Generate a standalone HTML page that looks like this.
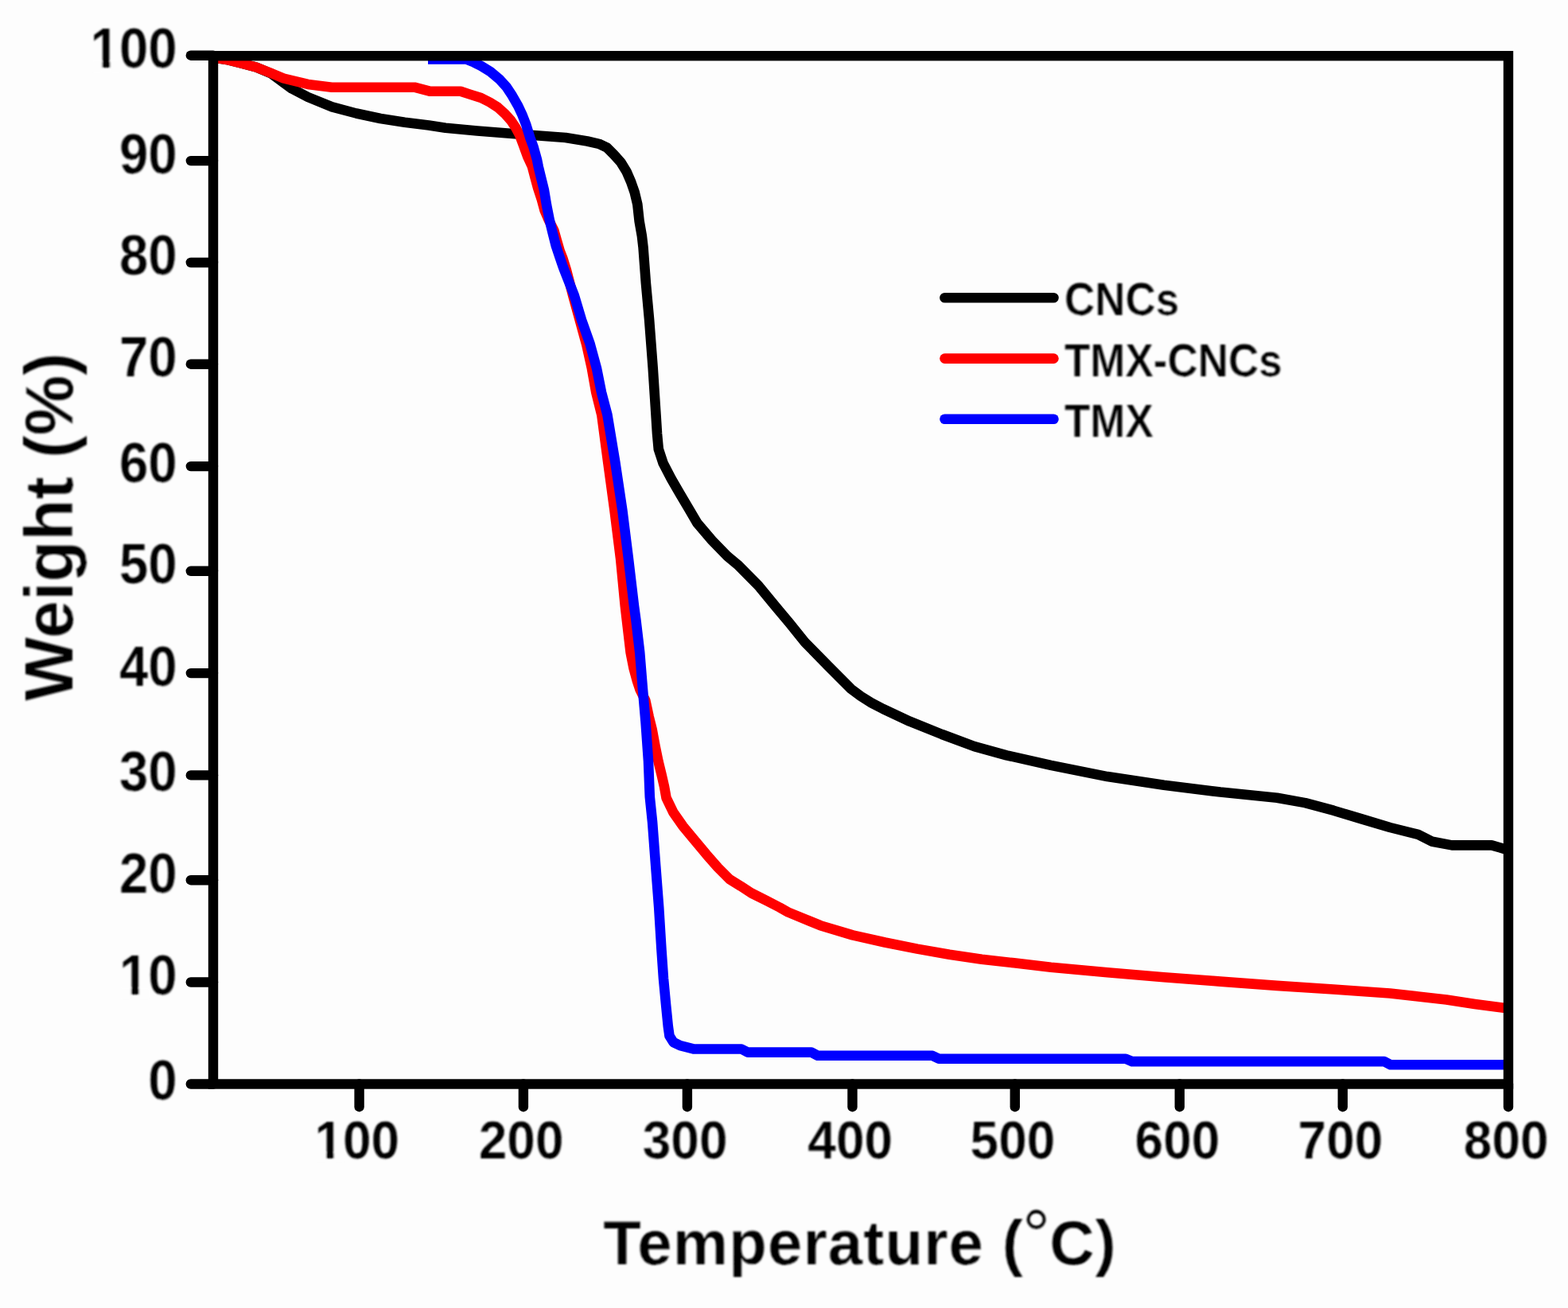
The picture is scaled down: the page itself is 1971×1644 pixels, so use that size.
<!DOCTYPE html>
<html lang="en">
<head>
<meta charset="utf-8">
<title>Weight (%) vs Temperature (°C): CNCs, TMX-CNCs, TMX</title>
<style>
html,body{margin:0;padding:0;background:#fdfdfd;}
body{width:1971px;height:1644px;overflow:hidden;}
svg{display:block;}
text{font-family:"Liberation Sans", sans-serif;font-weight:bold;fill:#000;}
</style>
</head>
<body>
<svg width="1971" height="1644" viewBox="0 0 1971 1644">
<defs>
<filter id="bl" x="-5%" y="-5%" width="110%" height="110%"><feGaussianBlur stdDeviation="1.2"/></filter>
<filter id="bs" x="-5%" y="-5%" width="110%" height="110%"><feGaussianBlur stdDeviation="0.6"/></filter>
</defs>
<rect x="0" y="0" width="1971" height="1644" fill="#fdfdfd"/>
<g id="curves" filter="url(#bs)" fill="none" stroke-linejoin="round" stroke-linecap="butt" stroke-width="12.6">
<path stroke="#000" d="M266.0,72.0 L285.0,75.0 L303.0,79.5 L322.0,84.5 L341.0,92.5 L356.5,104.0 L367.0,111.5 L387.0,122.0 L417.4,134.3 L447.9,142.5 L478.3,149.0 L508.7,153.8 L539.0,157.5 L560.0,160.7 L600.0,164.5 L657.0,169.0 L711.0,173.0 L738.3,177.5 L752.9,180.8 L762.9,185.5 L772.1,194.7 L780.3,203.9 L787.6,215.8 L793.1,228.5 L797.6,241.3 L801.3,256.8 L803.6,277.9 L806.8,296.1 L808.5,310.4 L811.9,356.0 L816.1,401.8 L820.7,462.6 L824.5,521.0 L826.0,545.0 L827.8,564.6 L833.7,582.4 L843.7,601.6 L854.7,620.7 L866.1,639.9 L876.6,657.7 L894.9,679.2 L914.1,698.8 L927.3,709.8 L953.5,736.2 L974.9,762.3 L992.3,783.0 L1011.7,807.1 L1040.0,836.0 L1069.9,866.0 L1082.0,875.0 L1095.3,883.3 L1110.0,891.0 L1143.5,906.7 L1184.1,923.0 L1224.7,938.2 L1265.3,949.3 L1321.0,961.9 L1392.0,976.1 L1463.0,986.7 L1534.0,995.6 L1605.2,1002.7 L1640.7,1009.1 L1676.2,1018.7 L1711.7,1029.4 L1747.2,1040.0 L1782.7,1048.9 L1800.5,1057.8 L1825.0,1062.4 L1875.0,1062.4 L1886.0,1065.5 L1894.0,1068.0"/>
<path stroke="#f00" d="M266.0,72.0 L285.0,75.0 L303.0,79.5 L322.0,84.5 L341.0,92.0 L356.5,98.5 L387.0,105.9 L417.0,109.7 L521.0,109.7 L540.0,114.7 L579.0,114.7 L590.0,118.4 L604.7,123.0 L615.6,128.5 L625.7,134.9 L634.8,143.1 L642.1,151.3 L648.0,160.0 L653.1,169.6 L657.6,181.5 L663.3,197.0 L668.9,209.1 L672.5,222.8 L676.2,236.5 L680.7,250.2 L684.4,263.9 L690.0,277.0 L696.3,289.5 L699.9,302.3 L703.6,315.1 L707.2,324.2 L711.8,338.8 L720.2,371.3 L728.6,401.8 L737.0,432.2 L743.8,462.6 L749.2,493.0 L756.3,521.5 L764.2,580.9 L772.5,641.8 L780.1,702.6 L785.8,762.0 L787.9,780.0 L792.6,820.1 L796.6,840.2 L800.6,854.9 L804.6,867.0 L811.3,880.3 L815.6,900.4 L819.6,916.5 L823.6,937.9 L827.4,956.6 L831.3,972.6 L835.0,988.7 L837.5,1002.7 L846.2,1020.8 L858.3,1038.2 L871.6,1054.2 L887.7,1073.6 L902.4,1090.4 L917.1,1105.1 L931.2,1113.8 L944.5,1122.5 L963.3,1131.8 L980.0,1140.5 L990.6,1146.5 L1031.2,1163.2 L1071.8,1175.4 L1112.4,1184.5 L1153.0,1192.6 L1193.5,1199.7 L1234.1,1205.8 L1274.7,1210.3 L1321.0,1215.8 L1392.0,1222.2 L1463.0,1228.2 L1534.0,1233.6 L1605.2,1238.9 L1676.2,1243.5 L1747.2,1248.5 L1782.7,1252.4 L1818.2,1256.6 L1853.8,1262.0 L1894.0,1267.2"/>
<path stroke="#00f" d="M538.0,74.5 L586.0,74.5 L596.0,78.5 L604.7,82.8 L616.5,90.1 L627.5,99.3 L636.6,109.3 L643.9,120.3 L651.2,133.1 L656.7,144.9 L661.3,156.8 L666.3,173.2 L670.4,184.2 L675.0,200.6 L676.8,209.8 L679.4,220.5 L683.9,238.8 L687.1,258.0 L690.8,276.7 L694.9,293.6 L699.0,309.6 L703.6,323.3 L707.7,335.2 L710.5,342.5 L721.8,371.3 L730.9,401.8 L741.6,432.2 L749.9,462.6 L756.0,493.0 L763.5,521.7 L773.3,580.9 L782.4,641.8 L790.0,702.6 L797.0,761.7 L799.5,780.0 L804.2,820.1 L807.9,865.6 L811.6,908.4 L815.0,956.6 L816.8,1001.7 L820.1,1033.5 L824.1,1087.0 L828.2,1140.5 L831.5,1194.0 L834.0,1230.0 L837.0,1262.0 L839.8,1290.0 L841.5,1302.0 L846.5,1310.0 L855.0,1314.2 L871.6,1318.4 L932.0,1318.5 L940.0,1322.6 L1020.0,1322.6 L1028.0,1326.8 L1172.0,1326.8 L1180.0,1330.7 L1415.0,1330.7 L1423.0,1334.1 L1740.0,1334.1 L1748.0,1338.3 L1894.0,1338.3"/>
</g>
<g id="axes" filter="url(#bs)" stroke="#000" stroke-width="12.4" fill="none" stroke-linecap="butt">
<rect x="268.0" y="70.2" width="1628.0" height="1292.3"/>

<line x1="239.8" y1="69.7" x2="268.0" y2="69.7" stroke-linecap="round"/>
<line x1="239.8" y1="202.1" x2="268.0" y2="202.1" stroke-linecap="round"/>
<line x1="239.8" y1="330.0" x2="268.0" y2="330.0" stroke-linecap="round"/>
<line x1="239.8" y1="457.7" x2="268.0" y2="457.7" stroke-linecap="round"/>
<line x1="239.8" y1="586.1" x2="268.0" y2="586.1" stroke-linecap="round"/>
<line x1="239.8" y1="717.8" x2="268.0" y2="717.8" stroke-linecap="round"/>
<line x1="239.8" y1="846.1" x2="268.0" y2="846.1" stroke-linecap="round"/>
<line x1="239.8" y1="974.4" x2="268.0" y2="974.4" stroke-linecap="round"/>
<line x1="239.8" y1="1106.2" x2="268.0" y2="1106.2" stroke-linecap="round"/>
<line x1="239.8" y1="1234.5" x2="268.0" y2="1234.5" stroke-linecap="round"/>
<line x1="239.8" y1="1362.5" x2="268.0" y2="1362.5" stroke-linecap="round"/>
<line x1="451.6" y1="1362.5" x2="451.6" y2="1391.2" stroke-linecap="round"/>
<line x1="657.9" y1="1362.5" x2="657.9" y2="1391.2" stroke-linecap="round"/>
<line x1="863.9" y1="1362.5" x2="863.9" y2="1391.2" stroke-linecap="round"/>
<line x1="1071.5" y1="1362.5" x2="1071.5" y2="1391.2" stroke-linecap="round"/>
<line x1="1275.8" y1="1362.5" x2="1275.8" y2="1391.2" stroke-linecap="round"/>
<line x1="1482.8" y1="1362.5" x2="1482.8" y2="1391.2" stroke-linecap="round"/>
<line x1="1687.8" y1="1362.5" x2="1687.8" y2="1391.2" stroke-linecap="round"/>
<line x1="1896.0" y1="1362.5" x2="1896.0" y2="1391.2" stroke-linecap="round"/>
</g>
<g id="ylabels" text-anchor="end" filter="url(#bl)" stroke="#fdfdfd" stroke-width="0.15">
<g transform="translate(222.5,85.1) scale(1.02,1.1)"><text font-size="64">100</text><rect x="-105.3" y="-7.6" width="13.2" height="13" fill="#fdfdfd" stroke="none"/><rect x="-82.5" y="-7.6" width="13.2" height="13" fill="#fdfdfd" stroke="none"/></g>
<g transform="translate(222.5,217.5) scale(1.02,1.1)"><text font-size="64">90</text></g>
<g transform="translate(222.5,345.4) scale(1.02,1.1)"><text font-size="64">80</text></g>
<g transform="translate(222.5,473.1) scale(1.02,1.1)"><text font-size="64">70</text></g>
<g transform="translate(222.5,605.8) scale(1.02,1.1)"><text font-size="64">60</text></g>
<g transform="translate(222.5,733.2) scale(1.02,1.1)"><text font-size="64">50</text></g>
<g transform="translate(222.5,861.5) scale(1.02,1.1)"><text font-size="64">40</text></g>
<g transform="translate(222.5,993.9) scale(1.02,1.1)"><text font-size="64">30</text></g>
<g transform="translate(222.5,1121.6) scale(1.02,1.1)"><text font-size="64">20</text></g>
<g transform="translate(222.5,1249.9) scale(1.02,1.1)"><text font-size="64">10</text><rect x="-69.7" y="-7.6" width="13.2" height="13" fill="#fdfdfd" stroke="none"/><rect x="-46.9" y="-7.6" width="13.2" height="13" fill="#fdfdfd" stroke="none"/></g>
<g transform="translate(222.5,1381.8) scale(1.02,1.1)"><text font-size="64">0</text></g>
</g>
<g id="xlabels" text-anchor="middle" filter="url(#bl)" stroke="#fdfdfd" stroke-width="0.15">
<g transform="translate(448.8,1456.3) scale(1.0,1.03)"><text font-size="64">100</text><rect x="-51.9" y="-7.6" width="13.2" height="13" fill="#fdfdfd" stroke="none"/><rect x="-29.1" y="-7.6" width="13.2" height="13" fill="#fdfdfd" stroke="none"/></g>
<g transform="translate(655.1,1456.3) scale(1.0,1.03)"><text font-size="64">200</text></g>
<g transform="translate(861.1,1456.3) scale(1.0,1.03)"><text font-size="64">300</text></g>
<g transform="translate(1068.7,1456.3) scale(1.0,1.03)"><text font-size="64">400</text></g>
<g transform="translate(1273.0,1456.3) scale(1.0,1.03)"><text font-size="64">500</text></g>
<g transform="translate(1480.0,1456.3) scale(1.0,1.03)"><text font-size="64">600</text></g>
<g transform="translate(1685.0,1456.3) scale(1.0,1.03)"><text font-size="64">700</text></g>
<g transform="translate(1893.2,1456.3) scale(1.0,1.03)"><text font-size="64">800</text></g>
</g>
<g id="titles" filter="url(#bl)" stroke="#fdfdfd" stroke-width="0.2">
<text id="xtitle" x="758.3" y="1589" font-size="78" letter-spacing="1.1">Temperature (<tspan font-weight="normal" font-size="88" dx="-2" dy="-7">°</tspan><tspan dx="-2" dy="7">C)</tspan></text>
<text id="ytitle" transform="translate(91,881) rotate(-90)" font-size="85">Weight (%)</text>
</g>
<g id="legend">
<line x1="1187.5" y1="374.3" x2="1324.5" y2="374.3" stroke="#000" stroke-width="12.6" stroke-linecap="round"/>
<line x1="1187.5" y1="450.6" x2="1324.5" y2="450.6" stroke="#f00" stroke-width="12.6" stroke-linecap="round"/>
<line x1="1187.5" y1="526.7" x2="1324.5" y2="526.7" stroke="#00f" stroke-width="12.6" stroke-linecap="round"/>
<g filter="url(#bl)" stroke="#fdfdfd" stroke-width="0.2">
<text font-size="53" transform="translate(1338,396.0) scale(1.0,1.09)">CNCs</text>
<text font-size="53" transform="translate(1338,472.6) scale(1.0,1.09)">TMX-CNCs</text>
<text font-size="53" transform="translate(1338,548.8) scale(1.0,1.09)">TMX</text>
</g></g>
</svg>
</body>
</html>
